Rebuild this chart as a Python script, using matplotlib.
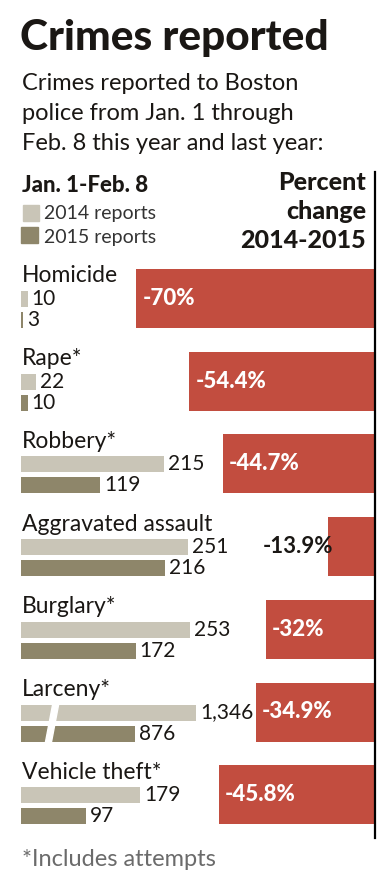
import numpy as np
import matplotlib.pyplot as plt
from matplotlib.patches import Rectangle

# data
crimes = ['Homicide', 'Rape*', 'Robbery*', 'Aggravated assault',
          'Burglary*', 'Larceny*', 'Vehicle theft*']
reports_2014 = [10, 22, 215, 251, 253, 1346, 179]
reports_2015 = [3, 10, 119, 216, 172, 876, 97]
pct_change = [-70, -54.4, -44.7, -13.9, -32, -34.9, -45.8]
pct_labels = ['-70%', '-54.4%', '-44.7%', '-13.9%', '-32%', '-34.9%', '-45.8%']

W, H = 377, 893
light = '#c9c5b7'
dark = '#8e866a'
red = '#c24d3f'
ink = '#1a1714'

fig = plt.figure(figsize=(W / 100, H / 100), dpi=100)


def ftext(x, y, s, **kw):
    # place text using pixel coords measured from top-left
    fig.text(x / W, 1 - y / H, s, **kw)


# header
ftext(20, 38, 'Crimes reported', family='Lato', fontsize=30.5, weight='black',
      color=ink, va='center')
for i, line in enumerate(['Crimes reported to Boston',
                          'police from Jan. 1 through',
                          'Feb. 8 this year and last year:']):
    ftext(22, 83 + i * 30.5, line, family='Lato', fontsize=17, color=ink, va='center')

ftext(22, 185, 'Jan. 1-Feb. 8', family='Lato', weight='black', fontsize=16,
      color=ink, va='center')
fig.patches.append(Rectangle((23 / W, 1 - 221 / H), 16 / W, 16 / H, color=light,
                             transform=fig.transFigure))
fig.patches.append(Rectangle((21 / W, 1 - 243 / H), 17 / W, 16 / H, color=dark,
                             transform=fig.transFigure))
ftext(44, 214, '2014 reports', family='Lato', fontsize=14, color='#333', va='center')
ftext(44, 237, '2015 reports', family='Lato', fontsize=14, color='#333', va='center')

for i, line in enumerate(['Percent', 'change', '2014-2015']):
    ftext(366, 183 + i * 28.5, line, family='Lato', weight='black', fontsize=18,
          color=ink, ha='right', va='center')

# axes: y in layout pixels, x in data units
px_per_count = 0.667
px_per_pct = 3.41
left_px, line_px = 21, 375

ax_c = fig.add_axes([left_px / W, 0, (line_px - left_px) / W, 1])
ax_c.set_xlim(0, (line_px - left_px) / px_per_count)
ax_c.set_ylim(H, 0)
ax_c.axis('off')
ax_c.patch.set_alpha(0)

ax_p = fig.add_axes([0, 0, line_px / W, 1])
ax_p.set_xlim(-line_px / px_per_pct, 0)
ax_p.set_ylim(H, 0)
ax_p.axis('off')
ax_p.patch.set_alpha(0)


def shown(v):
    # broken scale for the very long larceny bars
    return v if v < 500 else v * 0.195


top0, step = 269, 82.7
for i, name in enumerate(crimes):
    top = top0 + i * step
    ax_p.barh(top + 29.5, pct_change[i], height=59, left=0, color=red)
    bar_len = -pct_change[i] * px_per_pct
    if bar_len > 80:
        ax_p.annotate(pct_labels[i], (pct_change[i], top + 29.5), xytext=(6, 0),
                      textcoords='offset pixels', color='white', weight='black',
                      family='Lato', fontsize=16, va='center', ha='left')
    else:
        ax_p.annotate(pct_labels[i], (pct_change[i], top + 29.5), xytext=(6, 0),
                      textcoords='offset pixels', color=ink, weight='bold',
                      family='Lato', fontsize=16, va='center', ha='right')

    ax_c.text(1, top + 7, name, family='Lato', fontsize=16.5, color=ink, va='center')
    for v, yc, col in [(reports_2014[i], top + 30, light), (reports_2015[i], top + 51, dark)]:
        ax_c.barh(yc, shown(v), height=16, color=col)
        ax_c.annotate(f'{v:,}', (shown(v), yc), xytext=(4, 0), textcoords='offset pixels',
                      family='Lato', fontsize=15, color=ink, va='center')

    if reports_2014[i] >= 500:
        # white slash marking the break
        y1, y2 = top + 20, top + 62
        ax_c.fill([36, 45, 57, 48], [y2, y2, y1, y1], color='white', zorder=3)

fig.add_artist(plt.Line2D([line_px / W] * 2, [1 - 172 / H, 1 - 838 / H],
                          color='black', lw=1.6))

ftext(22, 860, '*Includes attempts', family='Lato', fontsize=17, color='#6b6b6b',
      va='center')

fig.savefig('out.png', dpi=100, facecolor='white')
